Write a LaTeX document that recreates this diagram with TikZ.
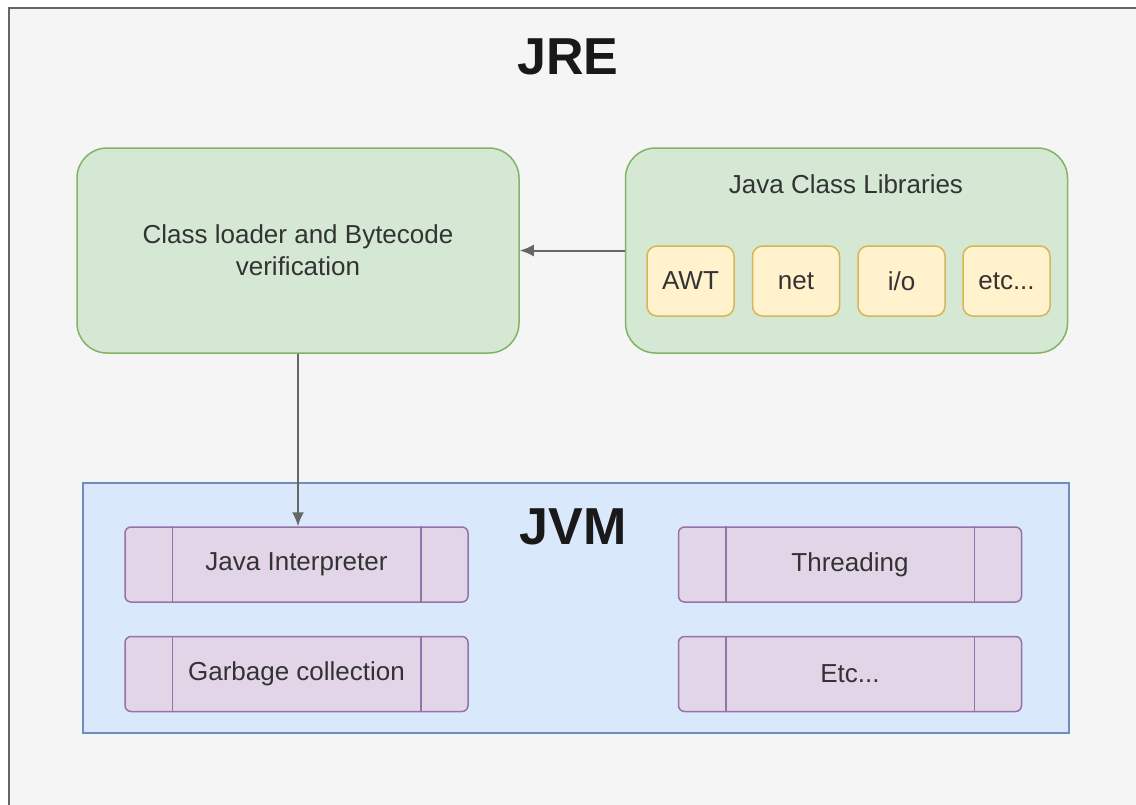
\documentclass[tikz,border=0pt]{standalone}
\usepackage{fontspec}
\setmainfont{Liberation Sans}
\usetikzlibrary{arrows.meta}
\definecolor{fond}{HTML}{F5F5F5}
\definecolor{bordfond}{HTML}{666666}
\definecolor{vertfond}{HTML}{D5E8D4}
\definecolor{vertbord}{HTML}{82B366}
\definecolor{jaunefond}{HTML}{FFF2CC}
\definecolor{jaunebord}{HTML}{D6B656}
\definecolor{bleufond}{HTML}{DAE8FC}
\definecolor{bleubord}{HTML}{6C8EBF}
\definecolor{violetfond}{HTML}{E1D5E7}
\definecolor{violetbord}{HTML}{9673A6}
\definecolor{texte}{HTML}{333333}
\begin{document}
\begin{tikzpicture}[x=0.5pt,y=-0.5pt]
% Styles
\tikzstyle{cadre}=[line width=0.75pt,inner sep=0pt,text=texte,font=\fontsize{13}{16}\selectfont]
\tikzstyle{bloc}=[cadre,draw=vertbord,fill=vertfond,rounded corners=15pt,minimum width=221pt,minimum height=102.5pt,align=center]
\tikzstyle{module}=[cadre,draw=jaunebord,fill=jaunefond,rounded corners=5pt,minimum width=43.5pt,minimum height=35pt]
\tikzstyle{tache}=[cadre,draw=violetbord,fill=violetfond,rounded corners=3pt,minimum width=171.5pt,minimum height=37.5pt]
\tikzstyle{titre}=[font=\fontsize{26}{30}\selectfont\bfseries,text=black!90]
\tikzstyle{fleche}=[-{Latex[length=7pt,width=6pt]},draw=bordfond,line width=1pt]
% Dimensions
\def\marge{24pt}
\useasboundingbox (0,0) rectangle (1136,804);
% Cadre JRE
\draw[fill=fond,draw=bordfond,line width=1pt] (9,8) rectangle (1150,820);
\node[titre] (jre) at (568,57) {JRE};
% Chargeur et bibliotheques
\node[bloc] (chargeur) at (298,250.5) {Class loader and Bytecode\\verification};
\node[bloc] (biblio) at (846.5,250.5) {};
\node[cadre] (titrebiblio) at (846,184) {Java Class Libraries};
\node[module] (awt) at (690.5,281) {AWT};
\node[module] (net) at (796,281) {net};
\node[module] (io) at (901.5,281) {i/o};
\node[module] (etc) at (1006.5,281) {etc...};
% JVM
\node[cadre,draw=bleubord,fill=bleufond,minimum width=493pt,minimum height=125pt] (jvm) at (576,608) {};
\node[titre] (titrejvm) at (573,527) {JVM};
\node[tache] (interp) at (296.5,564.5) {Java Interpreter};
\node[tache] (gc) at (296.5,674) {Garbage collection};
\node[tache] (thread) at (850,564.5) {Threading};
\node[tache] (autres) at (850,674) {Etc...};
\foreach \n in {interp,gc,thread,autres}{
  \draw[violetbord,line width=0.75pt] ([xshift=\marge]\n.north west) -- ([xshift=\marge]\n.south west);
  \draw[violetbord,line width=0.75pt] ([xshift=-\marge]\n.north east) -- ([xshift=-\marge]\n.south east);
}
% Fleches
\draw[fleche] (biblio.west) -- (chargeur.east);
\draw[fleche] (chargeur.south) -- (chargeur.south |- interp.north);
\end{tikzpicture}
\end{document}
